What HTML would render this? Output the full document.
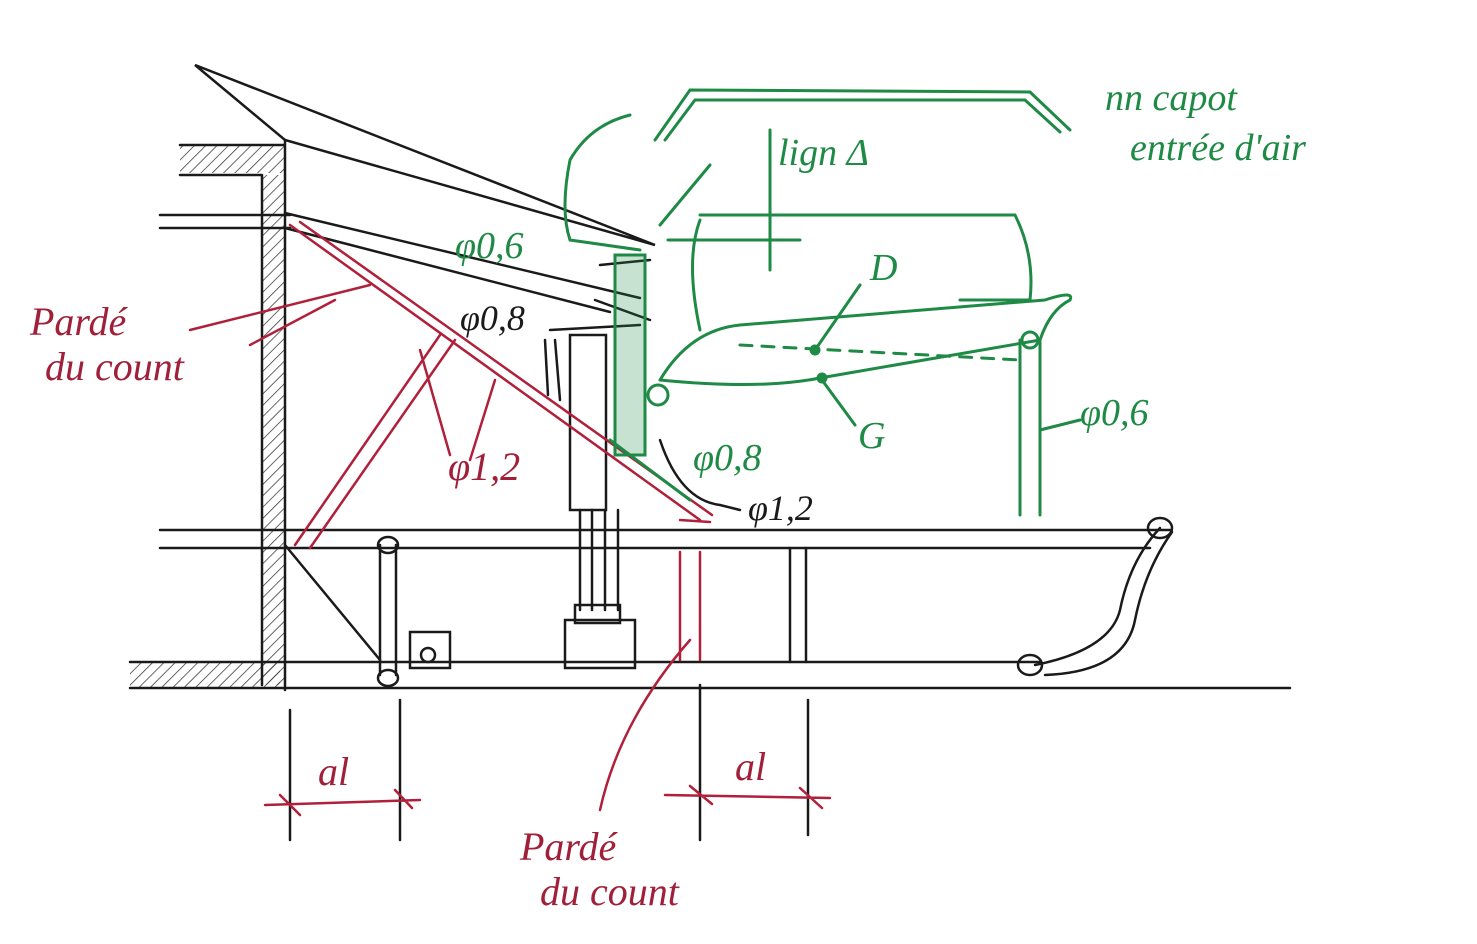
<!DOCTYPE html>
<html><head><meta charset="utf-8"><style>
html,body{margin:0;padding:0;background:#fff;}
svg{display:block}
text{font-family:"Liberation Serif",serif;font-style:italic}
</style></head><body>
<svg width="1477" height="944" viewBox="0 0 1477 944" xmlns="http://www.w3.org/2000/svg" fill="none" stroke-linecap="round">
<rect width="1477" height="944" fill="#fff" stroke="none"/>
<defs>
<pattern id="h" width="8" height="8" patternUnits="userSpaceOnUse" patternTransform="rotate(45)">
<line x1="0" y1="0" x2="0" y2="8" stroke="#333" stroke-width="1.5"/></pattern>
</defs>
<!-- BLACK -->
<g stroke="#1a1a1a" stroke-width="2.5">
<rect x="262" y="175" width="22" height="510" fill="url(#h)" stroke="none"/>
<rect x="180" y="145" width="105" height="28" fill="url(#h)" stroke="none"/>
<rect x="130" y="662" width="150" height="25" fill="url(#h)" stroke="none"/>
<path d="M195 65 L285 140 L655 245 Z"/>
<path d="M180 145 H285 M180 175 H262 M262 175 V685 M285 140 V690"/>
<path d="M160 215 H290 M160 228 H290"/>
<path d="M285 213 L640 298 M285 228 L610 312"/>
<path d="M160 530 H1170 M160 548 H1150"/>
<path d="M130 662 H1040 M130 688 H1290"/>
<path d="M1160 528 Q1130 560 1120 610 Q1110 650 1035 665 M1172 532 Q1145 570 1135 620 Q1125 672 1045 675"/>
<ellipse cx="1160" cy="528" rx="12" ry="10"/>
<ellipse cx="1030" cy="665" rx="12" ry="10"/>
<ellipse cx="388" cy="545" rx="10" ry="8"/>
<ellipse cx="388" cy="678" rx="10" ry="8"/>
<path d="M380 545 V675 M396 545 V675 M790 548 V662 M806 548 V662"/>
<path d="M285 545 L380 660"/>
<rect x="570" y="335" width="36" height="175"/>
<path d="M550 330 L640 325 M545 340 L548 395 M555 340 L560 400"/>
<path d="M580 510 V610 M592 510 V610 M605 510 V610 M618 510 V610"/>
<rect x="565" y="620" width="70" height="48"/>
<rect x="575" y="605" width="45" height="18"/>
<rect x="410" y="632" width="40" height="36"/>
<circle cx="428" cy="655" r="7"/>
<path d="M290 710 V840 M400 700 V840 M700 685 V840 M808 700 V835"/>
<path d="M600 265 L650 260 M595 300 L650 320"/>
<path d="M660 440 Q680 500 720 505 L740 510"/>
</g>
<g fill="#1a1a1a" stroke="none" font-size="36">
<text x="460" y="330">φ0,8</text>
<text x="748" y="520">φ1,2</text>
</g>
<!-- RED -->
<g stroke="#b0203a" stroke-width="2.5">
<path d="M290 225 L700 520 M300 222 L712 515"/>
<path d="M295 545 L440 335 M310 548 L455 340"/>
<path d="M190 330 L370 285 M250 345 L335 300"/>
<path d="M420 350 L450 455 M495 380 L470 460"/>
<path d="M680 552 V660 M700 552 V660"/>
<path d="M690 640 Q620 720 600 810"/>
<path d="M265 805 L420 800 M280 795 L300 815 M395 790 L412 808"/>
<path d="M665 795 L830 798 M690 786 L712 804 M800 788 L822 808"/>
<path d="M680 520 L710 522"/>
</g>
<g fill="#a0203a" stroke="none" font-size="40">
<text x="30" y="335">Pardé</text>
<text x="45" y="380">du count</text>
<text x="448" y="480">φ1,2</text>
<text x="318" y="785">al</text>
<text x="735" y="780">al</text>
<text x="520" y="860">Pardé</text>
<text x="540" y="905">du count</text>
</g>
<!-- GREEN -->
<g stroke="#1e8a45" stroke-width="3">
<path d="M655 140 L690 90 L1030 92 L1070 130 M665 140 L695 100 L1025 100 L1060 132"/>
<path d="M630 115 Q590 125 570 160 Q560 210 570 240 L640 250"/>
<path d="M710 165 L660 225"/>
<path d="M700 215 H1015 Q1035 255 1030 300 H960"/>
<path d="M700 220 Q685 260 700 330"/>
<path d="M668 240 H800 M770 130 V270"/>
<path d="M660 380 Q690 330 740 325 L1045 300 Q1075 290 1070 300 Q1050 310 1040 340 L820 378 Q760 390 660 380"/>
<path d="M740 345 L1020 360" stroke-dasharray="12 10"/>
<circle cx="815" cy="350" r="4" fill="#1e8a45"/>
<circle cx="822" cy="378" r="4" fill="#1e8a45"/>
<path d="M815 350 L860 285 M822 380 L855 425"/>
<path d="M1020 340 V515 M1040 340 V515"/>
<circle cx="1030" cy="340" r="8"/>
<path d="M1040 430 L1080 420"/>
<rect x="615" y="255" width="30" height="200" fill="#1e8a45" fill-opacity="0.25"/>
<circle cx="658" cy="395" r="10"/>
<path d="M610 440 L690 500"/>
</g>
<g fill="#1e8a45" stroke="none" font-size="38">
<text x="1105" y="110">nn capot</text>
<text x="1130" y="160">entrée d'air</text>
<text x="778" y="165">lign Δ</text>
<text x="455" y="258">φ0,6</text>
<text x="870" y="280">D</text>
<text x="858" y="448">G</text>
<text x="1080" y="425">φ0,6</text>
<text x="693" y="470">φ0,8</text>
</g>
</svg>
</body></html>
